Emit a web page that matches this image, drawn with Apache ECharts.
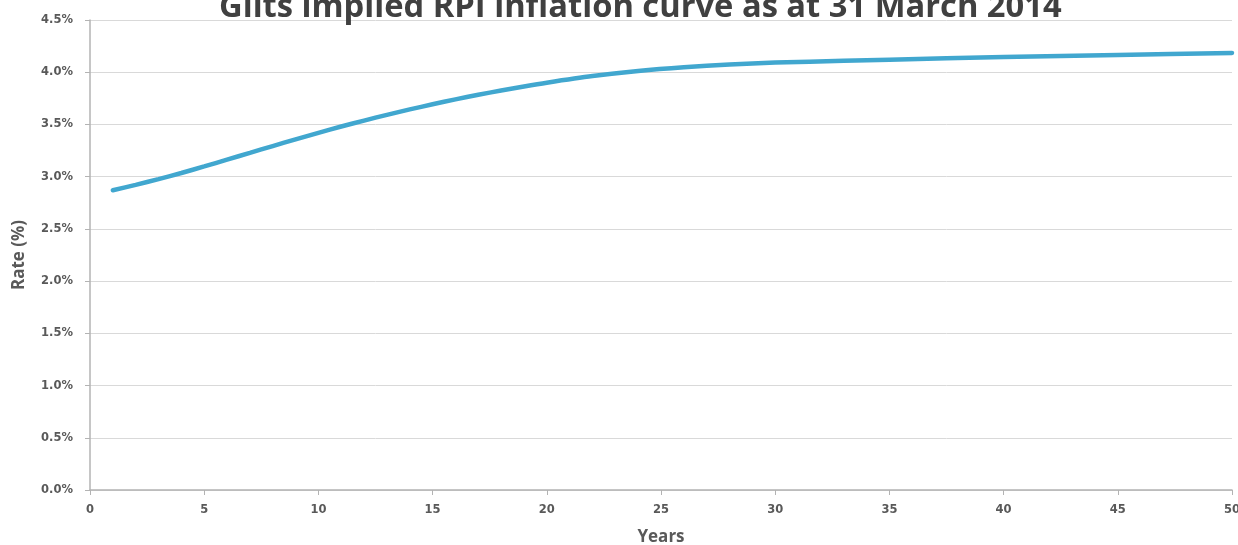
<!DOCTYPE html>
<html>
<head>
<meta charset="utf-8">
<script src="https://cdn.jsdelivr.net/npm/echarts@6/dist/echarts.min.js"></script>
<style>
html,body{margin:0;padding:0;background:#fff;}
#chart{width:1238px;height:545px;}
</style>
</head>
<body>
<div id="chart"></div>
<script>
var titleText = 'Gilts implied RPI inflation curve as at 31 March 2014';
var years = [1,2,3,4,5,6,7,8,9,10,11,12,13,14,15,16,17,18,19,20,22,24,26,28,30,33,35,40,45,50];
var rates = [2.87,2.922,2.977,3.035,3.098,3.163,3.228,3.293,3.357,3.42,3.48,3.537,3.592,3.644,3.693,3.74,3.784,3.825,3.864,3.90,3.963,4.012,4.048,4.074,4.092,4.110,4.12,4.145,4.165,4.185];
var xTicks = [0,5,10,15,20,25,30,35,40,45,50];
var yTicks = [0,0.5,1.0,1.5,2.0,2.5,3.0,3.5,4.0,4.5];

var chart = echarts.init(document.getElementById('chart'), null, {renderer:'canvas'});
var font = '"Open Sans", "DejaVu Sans", sans-serif';
var tickFont = '"DejaVu Sans", sans-serif';
var data = years.map(function(y,i){return [y, rates[i]];});
chart.setOption({
  animation:false,
  title:{
    text:titleText, left:214, top:-14,
    textStyle:{fontFamily:font, fontWeight:'bold', fontSize:32.7, color:'#404040'}
  },
  grid:{left:90, right:6, top:20, bottom:55, containLabel:false, outerBoundsMode:'none'},
  xAxis:{
    type:'value', min:xTicks[0], max:xTicks[xTicks.length-1], interval:5,
    name:'Years', nameLocation:'middle', nameGap:39,
    nameTextStyle:{fontFamily:font, fontWeight:'bold', fontSize:17, color:'#595959'},
    axisLine:{show:true, lineStyle:{color:'#b3b3b3', width:1.5}},
    axisTick:{show:true, inside:false, length:5, lineStyle:{color:'#b3b3b3'}},
    axisLabel:{fontFamily:tickFont, fontWeight:'bold', fontSize:11.5, color:'#595959', margin:14},
    splitLine:{show:false}
  },
  yAxis:{
    type:'value', min:yTicks[0], max:yTicks[yTicks.length-1], interval:0.5,
    name:'Rate (%)', nameLocation:'middle', nameGap:62, nameRotate:90,
    nameTextStyle:{fontFamily:font, fontWeight:'bold', fontSize:17, color:'#595959'},
    axisLine:{show:true, lineStyle:{color:'#b3b3b3', width:1.5}},
    axisTick:{show:true, inside:false, length:5, lineStyle:{color:'#b3b3b3'}},
    axisLabel:{fontFamily:tickFont, fontWeight:'bold', fontSize:11.5, color:'#595959', margin:17,
      formatter:function(v){return v.toFixed(1)+'%';}},
    splitLine:{show:true, lineStyle:{color:'#d9d9d9', width:1}}
  },
  series:[{
    type:'line', data:data, smooth:0.25, showSymbol:false,
    lineStyle:{color:'#41a7cf', width:4.5, cap:'round'}
  }]
});
</script>
</body>
</html>
